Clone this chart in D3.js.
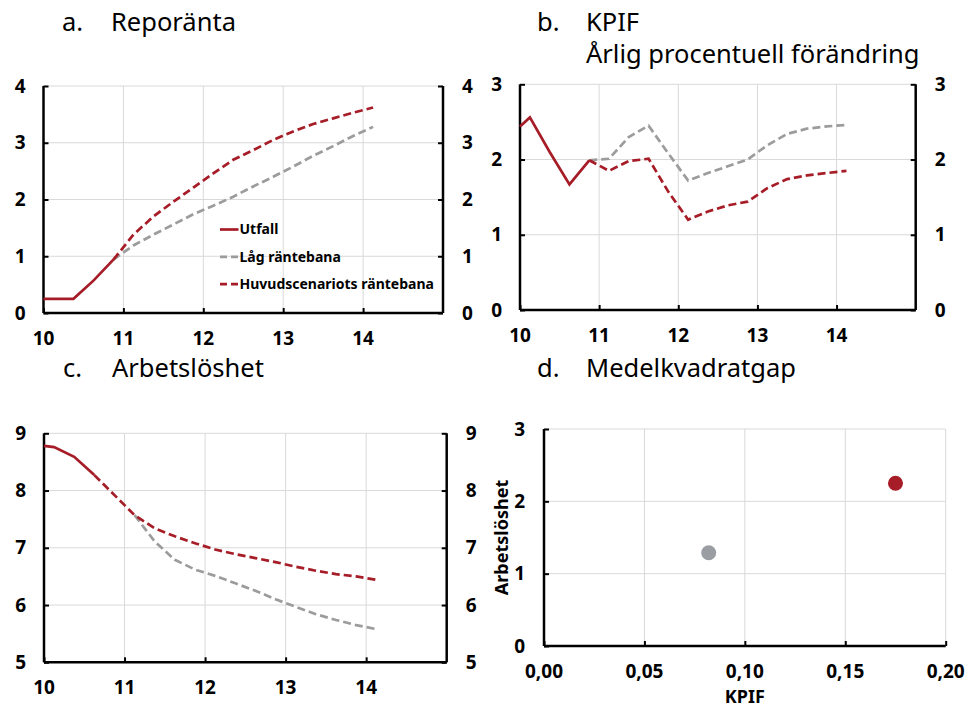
<!DOCTYPE html>
<head>
  <meta charset='utf-8'>
  <title>Reporänta, KPIF, Arbetslöshet, Medelkvadratgap</title>
  <style>
    body { margin: 0; background: #fff; }
    svg text { font-family: "Noto Sans", "Open Sans", sans-serif; fill: #000; }
    .title { font-size: 25.5px; }
    .tick-label { font-size: 19px; font-weight: bold; }
    .legend text { font-size: 14px; font-weight: bold; }
    .axis-title { font-size: 18px; font-weight: bold; }
  </style>
</head>

<body>
  <div id="chart"></div>

  <script src="https://cdn.jsdelivr.net/npm/d3@7"></script>
  <script type="text/javascript">
    // time axis in decimal years (10 = 2010)
    var yearTicks = [10, 11, 12, 13, 14];
    var utfallDates = [10.0, 10.125, 10.375, 10.625, 10.875];
    var prognosDates = [10.875, 11.125, 11.375, 11.625, 11.875, 12.125, 12.375, 12.625,
                        12.875, 13.125, 13.375, 13.625, 13.875, 14.125];

    // a. Reporänta
    var repoUtfall = [0.25, 0.25, 0.25, 0.57, 0.94];
    var repoHuvud  = [0.94, 1.38, 1.70, 1.96, 2.21, 2.46, 2.70, 2.87, 3.05, 3.20, 3.33, 3.43, 3.53, 3.62];
    var repoLag    = [0.94, 1.19, 1.38, 1.56, 1.74, 1.89, 2.05, 2.23, 2.40, 2.58, 2.77, 2.94, 3.12, 3.28];

    // b. KPIF
    var kpifUtfall = [2.44, 2.56, 2.10, 1.67, 1.99];
    var kpifHuvud  = [1.99, 1.85, 1.98, 2.01, 1.57, 1.20, 1.31, 1.39, 1.44, 1.62, 1.74, 1.79, 1.82, 1.85];
    var kpifLag    = [1.99, 2.01, 2.30, 2.45, 2.08, 1.72, 1.82, 1.91, 2.00, 2.19, 2.34, 2.41, 2.44, 2.46];

    // c. Arbetslöshet
    var arbUtfallDates = [10.0, 10.125, 10.375, 10.625];
    var arbUtfall = [8.78, 8.76, 8.59, 8.27];
    var arbHuvudDates = [10.625, 10.875, 11.125, 11.375, 11.625, 11.875, 12.125, 12.375,
                         12.625, 12.875, 13.125, 13.375, 13.625, 13.875, 14.125];
    var arbHuvud = [8.27, 7.92, 7.57, 7.34, 7.20, 7.08, 6.97, 6.89, 6.82, 6.75, 6.67, 6.60, 6.54, 6.50, 6.44];
    var arbLagDates = [11.125, 11.375, 11.625, 11.875, 12.125, 12.375, 12.625, 12.875,
                       13.125, 13.375, 13.625, 13.875, 14.125];
    var arbLag = [7.57, 7.11, 6.79, 6.62, 6.51, 6.38, 6.25, 6.10, 5.97, 5.84, 5.74, 5.65, 5.58];

    // d. Medelkvadratgap
    var gapNames = ["Låg räntebana", "Huvudscenariots räntebana"];
    var gapKpif = [0.082, 0.175];
    var gapArb = [1.29, 2.25];
    var gapXTicks = [0, 0.05, 0.10, 0.15, 0.20];
    var gapYTicks = [0, 1, 2, 3];

    var legendNames = ["Utfall", "Låg räntebana", "Huvudscenariots räntebana"];

    var red = "#a61c27",
        grey = "#9c9c9c",
        dotGrey = "#9a9ea3",
        gridColor = "#d9d9d9";

    var width = 969,
        height = 707;

    var svg = d3.select("#chart").append("svg")
        .attr("width", width)
        .attr("height", height);

    svg.append("rect")
        .attr("width", width)
        .attr("height", height)
        .attr("fill", "#fff");

    function zip(xs, ys) {
      return xs.map(function(x, i) { return [x, ys[i]]; });
    }

    function title(x, y, letter, lines) {
      svg.append("text").attr("class", "title")
          .attr("x", x).attr("y", y).text(letter);
      lines.forEach(function(t, i) {
        svg.append("text").attr("class", "title")
            .attr("x", x + 49).attr("y", y + i * 31.5).text(t);
      });
    }

    function linePanel(cfg) {
      var x = d3.scaleLinear().domain([10, 15]).range([cfg.left, cfg.right]);
      var y = d3.scaleLinear().domain(cfg.yDomain).range([cfg.bottom, cfg.top]);
      var g = svg.append("g");

      // gridlines
      g.selectAll(".hgrid")
          .data(cfg.yTicks)
        .enter().append("line")
          .attr("x1", cfg.left).attr("x2", cfg.right)
          .attr("y1", function(d) { return y(d); })
          .attr("y2", function(d) { return y(d); })
          .attr("stroke", gridColor).attr("stroke-width", 1);
      g.selectAll(".vgrid")
          .data(yearTicks.slice(1))
        .enter().append("line")
          .attr("x1", function(d) { return x(d); })
          .attr("x2", function(d) { return x(d); })
          .attr("y1", cfg.top).attr("y2", cfg.bottom)
          .attr("stroke", gridColor).attr("stroke-width", 1);

      // axes: ticks pointing inward, labels outside
      var left = g.append("g").attr("transform", "translate(" + cfg.left + ",0)")
          .call(d3.axisRight(y).tickValues(cfg.yTicks).tickSize(5).tickFormat(""));
      var right = g.append("g").attr("transform", "translate(" + cfg.right + ",0)")
          .call(d3.axisLeft(y).tickValues(cfg.yTicks).tickSize(5).tickFormat(""));
      var bottom = g.append("g").attr("transform", "translate(0," + cfg.bottom + ")")
          .call(d3.axisTop(x).tickValues(yearTicks).tickSize(5).tickFormat(""));
      [left, right, bottom].forEach(function(a) {
        a.select(".domain").attr("stroke", "#000").attr("stroke-width", 2.5);
        a.selectAll(".tick line").attr("stroke", "#000").attr("stroke-width", 2);
      });
      left.select(".domain").attr("d", "M0," + cfg.top + "V" + cfg.bottom);
      right.select(".domain").attr("d", "M0," + cfg.top + "V" + cfg.bottom);
      bottom.select(".domain").attr("d", "M" + cfg.left + ",0H" + cfg.right);

      g.selectAll(".ylab-l")
          .data(cfg.yTicks)
        .enter().append("text").attr("class", "tick-label")
          .attr("x", cfg.left - 18).attr("y", function(d) { return y(d); })
          .attr("dy", "0.35em").attr("text-anchor", "end")
          .text(function(d) { return d; });
      g.selectAll(".ylab-r")
          .data(cfg.yTicks)
        .enter().append("text").attr("class", "tick-label")
          .attr("x", cfg.right + 19).attr("y", function(d) { return y(d); })
          .attr("dy", "0.35em").attr("text-anchor", "start")
          .text(function(d) { return d; });
      g.selectAll(".xlab")
          .data(yearTicks)
        .enter().append("text").attr("class", "tick-label")
          .attr("x", function(d) { return x(d); }).attr("y", cfg.bottom + 32)
          .attr("text-anchor", "middle")
          .text(function(d) { return d; });

      var line = d3.line()
          .x(function(d) { return x(d[0]); })
          .y(function(d) { return y(d[1]); });

      g.append("path").datum(cfg.lag)
          .attr("d", line).attr("fill", "none")
          .attr("stroke", grey).attr("stroke-width", 2.7)
          .attr("stroke-dasharray", "8,4");
      g.append("path").datum(cfg.huvud)
          .attr("d", line).attr("fill", "none")
          .attr("stroke", red).attr("stroke-width", 2.7)
          .attr("stroke-dasharray", "8,4");
      g.append("path").datum(cfg.utfall)
          .attr("d", line).attr("fill", "none")
          .attr("stroke", red).attr("stroke-width", 2.7);
    }

    title(62, 31, "a.", ["Reporänta"]);
    title(537, 31, "b.", ["KPIF", "Årlig procentuell förändring"]);
    title(63, 377, "c.", ["Arbetslöshet"]);
    title(537, 377, "d.", ["Medelkvadratgap"]);

    linePanel({
      left: 43.5, right: 443, top: 86, bottom: 313,
      yDomain: [0, 4], yTicks: [0, 1, 2, 3, 4],
      utfall: zip(utfallDates, repoUtfall),
      huvud: zip(prognosDates, repoHuvud),
      lag: zip(prognosDates, repoLag)
    });

    linePanel({
      left: 520, right: 915.7, top: 84.3, bottom: 310,
      yDomain: [0, 3], yTicks: [0, 1, 2, 3],
      utfall: zip(utfallDates, kpifUtfall),
      huvud: zip(prognosDates, kpifHuvud),
      lag: zip(prognosDates, kpifLag)
    });

    linePanel({
      left: 44, right: 446.7, top: 433.3, bottom: 662.3,
      yDomain: [5, 9], yTicks: [5, 6, 7, 8, 9],
      utfall: zip(arbUtfallDates, arbUtfall),
      huvud: zip(arbHuvudDates, arbHuvud),
      lag: zip(arbLagDates, arbLag)
    });

    // legend inside panel a
    var legend = svg.append("g").attr("class", "legend");
    var legendStyles = [
      { color: red, dash: null },
      { color: grey, dash: "7,4" },
      { color: red, dash: "7,4" }
    ];
    legendNames.forEach(function(name, i) {
      var ly = 229.5 + i * 27.3;
      legend.append("line")
          .attr("x1", 220).attr("x2", 238.5)
          .attr("y1", ly).attr("y2", ly)
          .attr("stroke", legendStyles[i].color).attr("stroke-width", 2.7)
          .attr("stroke-dasharray", legendStyles[i].dash);
      legend.append("text")
          .attr("x", 239.5).attr("y", ly).attr("dy", "0.35em")
          .text(name);
    });

    // d. scatter
    var dl = 544, dr = 945.7, dt = 429, db = 646;
    var gx = d3.scaleLinear().domain([0, 0.2]).range([dl, dr]);
    var gy = d3.scaleLinear().domain([0, 3]).range([db, dt]);
    var gd = svg.append("g");

    gd.selectAll(".hgrid")
        .data(gapYTicks.slice(1))
      .enter().append("line")
        .attr("x1", dl).attr("x2", dr)
        .attr("y1", function(d) { return gy(d); })
        .attr("y2", function(d) { return gy(d); })
        .attr("stroke", gridColor).attr("stroke-width", 1);
    gd.selectAll(".vgrid")
        .data(gapXTicks.slice(1))
      .enter().append("line")
        .attr("x1", function(d) { return gx(d); })
        .attr("x2", function(d) { return gx(d); })
        .attr("y1", dt).attr("y2", db)
        .attr("stroke", gridColor).attr("stroke-width", 1);

    var dLeft = gd.append("g").attr("transform", "translate(" + dl + ",0)")
        .call(d3.axisRight(gy).tickValues(gapYTicks).tickSize(5).tickFormat(""));
    var dBottom = gd.append("g").attr("transform", "translate(0," + db + ")")
        .call(d3.axisTop(gx).tickValues(gapXTicks).tickSize(5).tickFormat(""));
    [dLeft, dBottom].forEach(function(a) {
      a.select(".domain").attr("stroke", "#000").attr("stroke-width", 2.5);
      a.selectAll(".tick line").attr("stroke", "#000").attr("stroke-width", 2);
    });
    dLeft.select(".domain").attr("d", "M0," + dt + "V" + db);
    dBottom.select(".domain").attr("d", "M" + dl + ",0H" + dr);

    var commaFmt = function(d) { return d3.format(".2f")(d).replace(".", ","); };

    gd.selectAll(".ylab")
        .data(gapYTicks)
      .enter().append("text").attr("class", "tick-label")
        .attr("x", dl - 19).attr("y", function(d) { return gy(d); })
        .attr("dy", "0.35em").attr("text-anchor", "end")
        .text(function(d) { return d; });
    gd.selectAll(".xlab")
        .data(gapXTicks)
      .enter().append("text").attr("class", "tick-label")
        .attr("x", function(d) { return gx(d); }).attr("y", db + 32)
        .attr("text-anchor", "middle")
        .text(commaFmt);

    gd.append("text").attr("class", "axis-title")
        .attr("x", (dl + dr) / 2).attr("y", 703)
        .attr("text-anchor", "middle")
        .text("KPIF");
    gd.append("text").attr("class", "axis-title")
        .attr("transform", "translate(508," + ((dt + db) / 2) + ") rotate(-90)")
        .attr("text-anchor", "middle")
        .text("Arbetslöshet");

    gd.selectAll(".dot")
        .data(gapNames)
      .enter().append("circle")
        .attr("cx", function(d, i) { return gx(gapKpif[i]); })
        .attr("cy", function(d, i) { return gy(gapArb[i]); })
        .attr("r", 7.5)
        .attr("fill", function(d, i) { return i === 0 ? dotGrey : red; });
  </script>

</body>
